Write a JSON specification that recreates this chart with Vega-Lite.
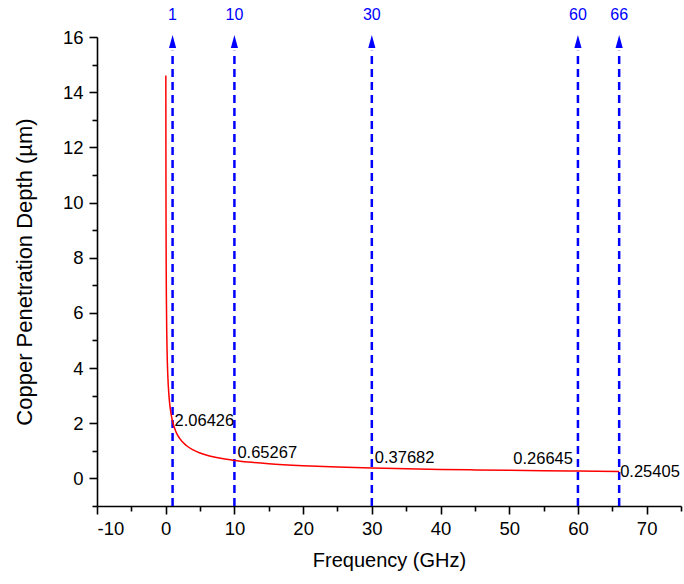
{
  "$schema": "https://vega.github.io/schema/vega-lite/v6.json",
  "autosize": "none",
  "width": 584,
  "height": 469,
  "padding": {"left": 97, "top": 37, "right": 3, "bottom": 78},
  "background": "white",
  "config": {
    "view": {"stroke": null},
    "font": "Liberation Sans",
    "axis": {"grid": false, "domainColor": "black", "tickColor": "black", "labelColor": "black", "titleColor": "black", "domainWidth": 1.6, "tickWidth": 1.6, "labelFont": "Liberation Sans", "titleFont": "Liberation Sans", "titleFontWeight": "normal", "labelFontSize": 18.5, "titleFontSize": 20}
  },
  "datasets": {
    "curve": [
      {"f": 0.02, "d": 14.6}, {"f": 0.03, "d": 11.92}, {"f": 0.05, "d": 9.23}, {"f": 0.075, "d": 7.54},
      {"f": 0.1, "d": 6.53}, {"f": 0.15, "d": 5.33}, {"f": 0.2, "d": 4.62}, {"f": 0.3, "d": 3.77},
      {"f": 0.5, "d": 2.92}, {"f": 0.75, "d": 2.38}, {"f": 1, "d": 2.064}, {"f": 1.5, "d": 1.685},
      {"f": 2, "d": 1.46}, {"f": 3, "d": 1.192}, {"f": 4, "d": 1.032}, {"f": 5, "d": 0.923},
      {"f": 6, "d": 0.843}, {"f": 8, "d": 0.73}, {"f": 10, "d": 0.6527}, {"f": 12, "d": 0.596},
      {"f": 15, "d": 0.533}, {"f": 20, "d": 0.462}, {"f": 25, "d": 0.413}, {"f": 30, "d": 0.3768},
      {"f": 35, "d": 0.349}, {"f": 40, "d": 0.326}, {"f": 45, "d": 0.308}, {"f": 50, "d": 0.292},
      {"f": 55, "d": 0.278}, {"f": 60, "d": 0.2665}, {"f": 66, "d": 0.2541}
    ],
    "marks": [
      {"f": 1, "d": 2.06426, "label": "2.06426", "name": "1"},
      {"f": 10, "d": 0.65267, "label": "0.65267", "name": "10"},
      {"f": 30, "d": 0.37682, "label": "0.37682", "name": "30"},
      {"f": 60, "d": 0.26645, "label": "0.26645", "name": "60"},
      {"f": 66, "d": 0.25405, "label": "0.25405", "name": "66"}
    ]
  },
  "layer": [
    {
      "data": {"name": "marks"},
      "mark": {"type": "rule", "color": "#0000FF", "strokeWidth": 2.5, "strokeDash": [8, 5]},
      "encoding": {
        "x": {"field": "f", "type": "quantitative", "scale": {"domain": [-10, 75], "nice": false, "zero": false},
          "axis": {"values": [-10, 0, 10, 20, 30, 40, 50, 60, 70], "labelExpr": "'' + datum.value", "title": "Frequency (GHz)", "tickSize": 8, "labelPadding": 5, "titlePadding": 13}},
        "y": {"datum": -1, "type": "quantitative", "scale": {"domain": [-1, 16], "nice": false, "zero": false},
          "axis": {"values": [0, 2, 4, 6, 8, 10, 12, 14, 16], "labelExpr": "'' + datum.value", "title": "Copper Penetration Depth (µm)", "titleFontSize": 22, "tickSize": 8, "labelPadding": 6, "titlePadding": 26}},
        "y2": {"datum": 15.5}
      }
    },
    {
      "data": {"name": "marks"},
      "mark": {"type": "point", "shape": "M0,-1L0.55,1L-0.55,1Z", "filled": true, "color": "#0000FF", "opacity": 1, "size": 169},
      "encoding": {
        "x": {"field": "f", "type": "quantitative", "axis": null},
        "y": {"datum": 15.84, "type": "quantitative", "axis": null}
      }
    },
    {
      "data": {"name": "marks"},
      "mark": {"type": "text", "color": "#0000FF", "fontSize": 16, "baseline": "middle", "align": "center"},
      "encoding": {
        "x": {"field": "f", "type": "quantitative", "axis": null},
        "y": {"datum": 16.8, "type": "quantitative", "axis": null},
        "text": {"field": "name"}
      }
    },
    {
      "data": {"name": "curve"},
      "mark": {"type": "line", "color": "#FF0000", "strokeWidth": 1.5, "interpolate": "monotone"},
      "encoding": {
        "x": {"field": "f", "type": "quantitative", "axis": null},
        "y": {"field": "d", "type": "quantitative", "axis": null}
      }
    },
    {
      "data": {"name": "marks"},
      "transform": [{"filter": "datum.f == 1"}],
      "mark": {"type": "text", "color": "black", "fontSize": 16.5, "align": "left", "baseline": "middle", "dx": 2, "dy": 0},
      "encoding": {
        "x": {"field": "f", "type": "quantitative", "axis": null},
        "y": {"field": "d", "type": "quantitative", "axis": null},
        "text": {"field": "label"}
      }
    },
    {
      "data": {"name": "marks"},
      "transform": [{"filter": "datum.f == 10"}],
      "mark": {"type": "text", "color": "black", "fontSize": 16.5, "align": "left", "baseline": "middle", "dx": 3, "dy": -7},
      "encoding": {
        "x": {"field": "f", "type": "quantitative", "axis": null},
        "y": {"field": "d", "type": "quantitative", "axis": null},
        "text": {"field": "label"}
      }
    },
    {
      "data": {"name": "marks"},
      "transform": [{"filter": "datum.f == 30"}],
      "mark": {"type": "text", "color": "black", "fontSize": 16.5, "align": "left", "baseline": "middle", "dx": 3, "dy": -10},
      "encoding": {
        "x": {"field": "f", "type": "quantitative", "axis": null},
        "y": {"field": "d", "type": "quantitative", "axis": null},
        "text": {"field": "label"}
      }
    },
    {
      "data": {"name": "marks"},
      "transform": [{"filter": "datum.f == 60"}],
      "mark": {"type": "text", "color": "black", "fontSize": 16.5, "align": "right", "baseline": "middle", "dx": -5, "dy": -12},
      "encoding": {
        "x": {"field": "f", "type": "quantitative", "axis": null},
        "y": {"field": "d", "type": "quantitative", "axis": null},
        "text": {"field": "label"}
      }
    },
    {
      "data": {"name": "marks"},
      "transform": [{"filter": "datum.f == 66"}],
      "mark": {"type": "text", "color": "black", "fontSize": 16.5, "align": "left", "baseline": "middle", "dx": 1, "dy": 1},
      "encoding": {
        "x": {"field": "f", "type": "quantitative", "axis": null},
        "y": {"field": "d", "type": "quantitative", "axis": null},
        "text": {"field": "label"}
      }
    },
    {
      "data": {"values": [{"v": -5}, {"v": 5}, {"v": 15}, {"v": 25}, {"v": 35}, {"v": 45}, {"v": 55}, {"v": 65}, {"v": 75}]},
      "mark": {"type": "tick", "opacity": 0},
      "encoding": {
        "x": {"field": "v", "type": "quantitative", "axis": {"orient": "bottom", "values": [-5, 5, 15, 25, 35, 45, 55, 65, 75], "labels": false, "title": null, "domain": false, "tickSize": 5}}
      }
    },
    {
      "data": {"values": [{"v": 1}, {"v": 3}, {"v": 5}, {"v": 7}, {"v": 9}, {"v": 11}, {"v": 13}, {"v": 15}]},
      "mark": {"type": "tick", "opacity": 0},
      "encoding": {
        "y": {"field": "v", "type": "quantitative", "axis": {"orient": "left", "values": [-1, 1, 3, 5, 7, 9, 11, 13, 15], "labels": false, "title": null, "domain": false, "tickSize": 5}}
      }
    }
  ],
  "resolve": {"axis": {"x": "independent", "y": "independent"}}
}
